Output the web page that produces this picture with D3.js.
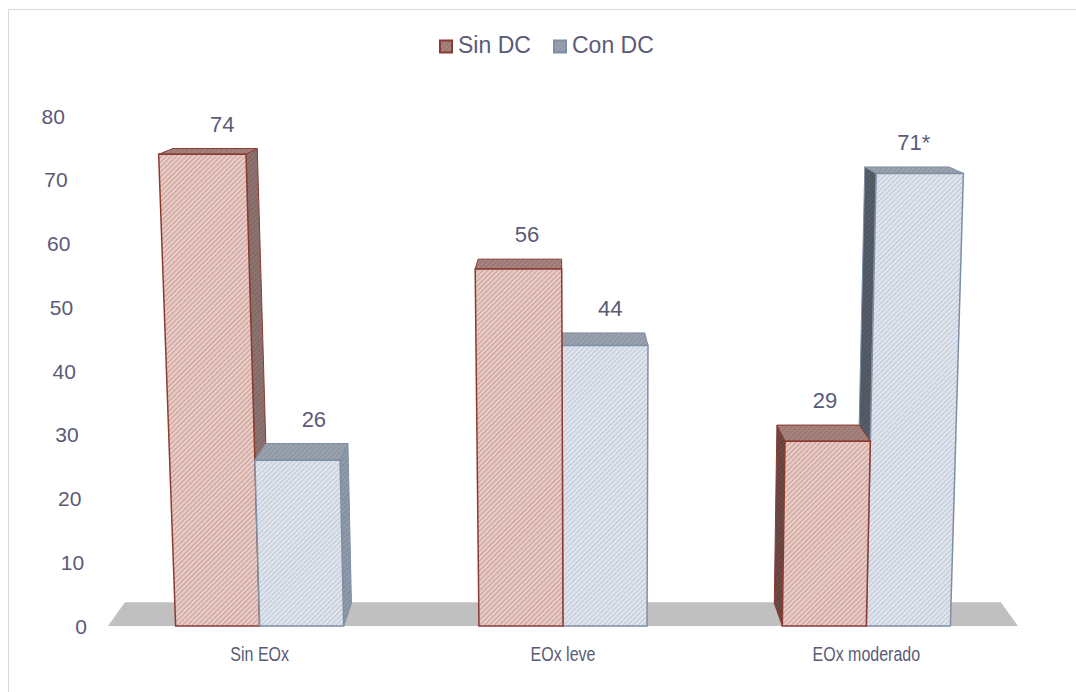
<!DOCTYPE html>
<html>
<head>
<meta charset="utf-8">
<script src="https://cdn.jsdelivr.net/npm/d3@7"></script>
<style>
  body { margin: 0; background: #fff; }
  text { font-family: "Liberation Sans", Arial, sans-serif; fill: #5a5b77; }
</style>
</head>
<body>
<svg id="chart" width="1076" height="692"></svg>
<script>
// data
const categories = ["Sin EOx", "EOx leve", "EOx moderado"];
const series = ["Sin DC", "Con DC"];
const sinDC = [74, 56, 29];
const conDC = [26, 44, 71];
const sinDCLabels = ["74", "56", "29"];
const conDCLabels = ["26", "44", "71*"];
const yTicks = [0, 10, 20, 30, 40, 50, 60, 70, 80];

const svg = d3.select("#chart");

// chart frame (runs off the right and bottom of the picture)
svg.append("rect")
  .attr("x", 8.5).attr("y", 9.5)
  .attr("width", 1100).attr("height", 720)
  .attr("fill", "none").attr("stroke", "#d9d9d9");

// face colours per series
const look = {
  "Sin DC": { front: ["#e9cdc8", "#cb9d95"], top: ["#a8847f", "#92706b"],
              right: ["#8e7470", "#7c6460"], left: ["#6e4a45", "#5e3e3a"], stroke: "#8a3b31" },
  "Con DC": { front: ["#e1e6ee", "#bfc8d5"], top: ["#9aa3af", "#88919d"],
              right: ["#909cab", "#7f8a99"], left: ["#565e69", "#4a515b"], stroke: "#7f8fa6" }
};

const defs = svg.append("defs");
function hatch(id, bg, fg) {
  const p = defs.append("pattern").attr("id", id)
    .attr("patternUnits", "userSpaceOnUse")
    .attr("width", 3.5).attr("height", 3.5)
    .attr("patternTransform", "rotate(45)");
  p.append("rect").attr("width", 3.5).attr("height", 3.5).attr("fill", bg);
  p.append("line").attr("x1", 0.6).attr("y1", 0).attr("x2", 0.6).attr("y2", 3.5)
    .attr("stroke", fg).attr("stroke-width", 1.1);
}
series.forEach((s, j) => {
  ["front", "top", "right", "left"].forEach(f => {
    hatch("h" + j + f, look[s][f][0], look[s][f][1]);
  });
});

// scales on the front plane, at the baseline
const baseY = 626;
const x = d3.scaleBand().domain(categories).range([108, 1018])
  .paddingInner(0.446).paddingOuter(0.223);
const xs = d3.scaleBand().domain(series).range([0, x.bandwidth()]);
const y = d3.scaleLinear().domain([0, 80]).range([baseY, 116]);

// perspective: verticals converge far below, depth goes toward a point above
const vert = { x: 606, y: 12570 };
const vp = { x: 559, y: -5 };
const kBar = 0.036, kFloor = 0.0375;
function front(X, yy) {
  const s = (vert.y - yy) / (vert.y - baseY);
  return [vert.x + (X - vert.x) * s, yy];
}
function back(p, k) {
  return [vp.x + (p[0] - vp.x) * (1 - k), vp.y + (p[1] - vp.y) * (1 - k)];
}
const line = d3.line();

// floor
const fl = [front(x.range()[0], baseY), front(x.range()[1], baseY)];
svg.append("path")
  .attr("d", line([fl[0], fl[1], back(fl[1], kFloor), back(fl[0], kFloor)]) + "Z")
  .attr("fill", "#c0c0c0");

// y tick labels (right aligned, following the slanted axis)
svg.append("g").selectAll("text").data(yTicks).enter().append("text")
  .attr("x", d => front(87, y(d))[0])
  .attr("y", d => y(d) + 7.5)
  .attr("text-anchor", "end")
  .style("font-size", "21px")
  .text(d => d);

// bars
const bars = [];
categories.forEach((c, i) => {
  [sinDC, conDC].forEach((vals, j) => {
    const x0 = x(c) + xs(series[j]);
    bars.push({ cat: c, j: j, ser: series[j], value: vals[i],
      label: (j === 0 ? sinDCLabels : conDCLabels)[i],
      x0: x0, x1: x0 + xs.bandwidth() });
  });
});
// paint farthest from the centre first
bars.sort((a, b) => Math.abs((b.x0 + b.x1) / 2 - vp.x) - Math.abs((a.x0 + a.x1) / 2 - vp.x));

const gBars = svg.append("g");
bars.forEach(b => {
  const yT = y(b.value);
  const ftl = front(b.x0, yT), ftr = front(b.x1, yT);
  const fbl = [b.x0, baseY], fbr = [b.x1, baseY];
  const btl = back(ftl, kBar), btr = back(ftr, kBar);
  const bbl = back(fbl, kBar), bbr = back(fbr, kBar);
  const st = look[b.ser].stroke;
  const g = gBars.append("g");
  if (btl[0] < ftl[0]) {
    g.append("path").attr("d", line([fbl, ftl, btl, bbl]) + "Z")
      .attr("fill", "url(#h" + b.j + "left)").attr("stroke", st).attr("stroke-width", 1);
  }
  if (btr[0] > ftr[0]) {
    g.append("path").attr("d", line([fbr, ftr, btr, bbr]) + "Z")
      .attr("fill", "url(#h" + b.j + "right)").attr("stroke", st).attr("stroke-width", 1);
  }
  g.append("path").attr("d", line([ftl, ftr, btr, btl]) + "Z")
    .attr("fill", "url(#h" + b.j + "top)").attr("stroke", st).attr("stroke-width", 1);
  g.append("path").attr("d", line([fbl, ftl, ftr, fbr]) + "Z")
    .attr("fill", "url(#h" + b.j + "front)").attr("stroke", st).attr("stroke-width", 1.5);
  b.lp = back(front((b.x0 + b.x1) / 2, yT), kBar);
});

// data labels
svg.append("g").selectAll("text").data(bars).enter().append("text")
  .attr("x", d => d.lp[0] + 7)
  .attr("y", d => d.lp[1] - 17)
  .attr("text-anchor", "middle")
  .style("font-size", "22px")
  .text(d => d.label);

// category labels (narrow face)
svg.append("g").selectAll("text").data(categories).enter().append("text")
  .attr("transform", d => "translate(" + (x(d) + x.bandwidth() / 2) + ",661) scale(0.8,1)")
  .attr("text-anchor", "middle")
  .style("font-size", "20px")
  .text(d => d);

// legend
const legX = [440, 554];
const leg = svg.append("g");
series.forEach((s, j) => {
  leg.append("rect")
    .attr("x", legX[j]).attr("y", 40.5).attr("width", 12).attr("height", 12)
    .attr("fill", "url(#h" + j + "top)").attr("stroke", look[s].stroke).attr("stroke-width", 2);
  leg.append("text")
    .attr("x", legX[j] + 18).attr("y", 53)
    .style("font-size", "23px")
    .text(s);
});
</script>
</body>
</html>
